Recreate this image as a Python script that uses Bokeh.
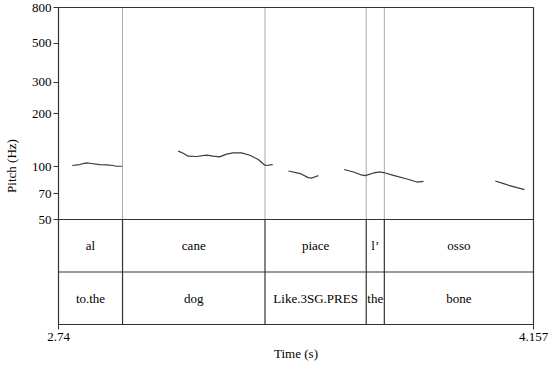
from bokeh.plotting import figure
from bokeh.models import Range1d, FixedTicker, PrintfTickFormatter, LinearScale
from bokeh.core.properties import value
from bokeh.embed import file_html
from bokeh.resources import INLINE

T_START, T_END = 2.74, 4.157
F_MIN, F_MAX = 50, 800
boundaries = [2.931, 3.356, 3.658, 3.712]
words = ["al", "cane", "piace", "l\u2019", "osso"]
glosses = ["to.the", "dog", "Like.3SG.PRES", "the", "bone"]
y_ticks = [50, 70, 100, 200, 300, 500, 800]

seg_times = [
    [2.781, 2.803, 2.823, 2.838, 2.863, 2.883, 2.902, 2.912, 2.930],
    [3.097, 3.112, 3.127, 3.152, 3.182, 3.201, 3.221, 3.241, 3.261, 3.286, 3.311, 3.336, 3.352, 3.358, 3.379],
    [3.426, 3.461, 3.485, 3.496, 3.515],
    [3.592, 3.620, 3.640, 3.655, 3.680, 3.700, 3.710, 3.739, 3.780, 3.809, 3.829],
    [4.043, 4.068, 4.083, 4.108, 4.130],
]
seg_pitch = [
    [101.3, 102.6, 104.8, 104.0, 102.6, 102.1, 101.3, 100.3, 100.3],
    [122.2, 119.0, 114.4, 114.0, 115.9, 114.4, 113.4, 117.5, 119.5, 119.5, 115.9, 109.6, 103.0, 101.3, 102.6],
    [94.3, 91.2, 86.5, 86.0, 88.8],
    [96.1, 93.1, 90.0, 88.8, 91.9, 93.1, 92.4, 89.1, 84.9, 81.6, 82.4],
    [82.7, 79.9, 78.2, 75.8, 73.9],
]

FONT = "Liberation Serif"
LINE = "#333333"

# layout: pitch panel on top, two text tiers below, in one frame
PITCH_PX, TIER_PX = 212, 105
FRAME_H = PITCH_PX + TIER_PX
y_low = F_MIN / (F_MAX / F_MIN) ** (TIER_PX / PITCH_PX)

p = figure(frame_width=475, frame_height=FRAME_H,
           x_range=Range1d(T_START, T_END), y_range=Range1d(y_low, F_MAX),
           y_axis_type="log", output_backend="svg", toolbar_location=None,
           min_border_left=53, min_border_right=16, min_border_top=7, min_border_bottom=0)
p.extra_y_ranges = {"tier": Range1d(0, 2 * FRAME_H / TIER_PX)}
p.extra_y_scales = {"tier": LinearScale()}
p.grid.visible = False
p.outline_line_color = LINE
p.outline_line_width = 1.2

ax = p.yaxis[0]
ax.ticker = FixedTicker(ticks=y_ticks, minor_ticks=[])
ax.formatter = PrintfTickFormatter(format="%d")
ax.axis_label = "Pitch (Hz)"
ax.axis_label_text_font = FONT
ax.axis_label_text_font_size = "13px"
ax.axis_label_text_font_style = "normal"
ax.axis_label_text_color = "black"
ax.axis_label_standoff = 10
ax.major_label_text_font = FONT
ax.major_label_text_font_size = "13px"
ax.major_label_text_color = "black"
ax.major_label_standoff = 2
ax.major_tick_out = 5
ax.major_tick_in = 0
ax.major_tick_line_color = LINE
ax.axis_line_color = LINE

# dotted interval boundaries in pitch panel
p.segment(x0=boundaries, y0=[F_MIN] * len(boundaries), x1=boundaries, y1=[F_MAX] * len(boundaries),
          line_color="#555555", line_width=1, line_dash="1 1")
# pitch contour
p.multi_line(xs=seg_times, ys=seg_pitch, line_color="#3a3a3a", line_width=1.2)

# tiers
p.segment(x0=[T_START, T_START], y0=[2, 1], x1=[T_END, T_END], y1=[2, 1],
          line_color=LINE, line_width=1.2, y_range_name="tier")
p.segment(x0=boundaries, y0=[0] * len(boundaries), x1=boundaries, y1=[2] * len(boundaries),
          line_color=LINE, line_width=1.2, y_range_name="tier")

edges = [T_START] + boundaries + [T_END]
mids = [(edges[i] + edges[i + 1]) / 2 for i in range(len(words))]
p.text(x=mids, y=[1.5] * len(words), text=words, text_align="center",
       text_baseline="middle", text_font=value(FONT), text_font_size="13px",
       text_color="black", y_range_name="tier")
p.text(x=mids, y=[0.5] * len(glosses), text=glosses, text_align="center",
       text_baseline="middle", text_font=value(FONT), text_font_size="13px",
       text_color="black", y_range_name="tier")

xa = p.xaxis[0]
xa.ticker = FixedTicker(ticks=[T_START, T_END], minor_ticks=[])
xa.major_label_overrides = {T_START: "2.74", T_END: "4.157"}
xa.axis_label = "Time (s)"
xa.axis_label_text_font = FONT
xa.axis_label_text_font_size = "13px"
xa.axis_label_text_font_style = "normal"
xa.axis_label_text_color = "black"
xa.axis_label_standoff = 2
xa.major_label_text_font = FONT
xa.major_label_text_font_size = "13px"
xa.major_label_text_color = "black"
xa.major_label_standoff = 3
xa.major_tick_out = 5
xa.major_tick_in = 0
xa.major_tick_line_color = LINE
xa.axis_line_color = LINE

open("out.html", "w").write(file_html(p, INLINE))
